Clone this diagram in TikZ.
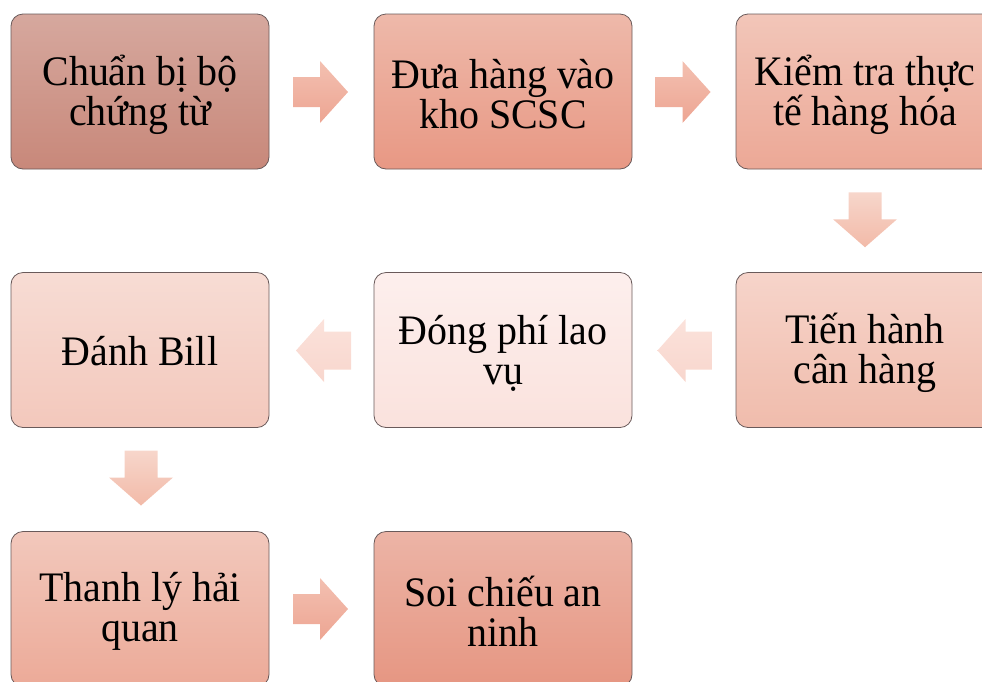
\documentclass[tikz,border=0pt]{standalone}
\usepackage{fontspec}
\setmainfont{Liberation Serif}[FakeStretch=0.95]
\usetikzlibrary{calc}
\definecolor{bdr}{RGB}{105,90,90}
\definecolor{b1t}{RGB}{214,168,158}\definecolor{b1b}{RGB}{200,136,122}
\definecolor{b2t}{RGB}{238,185,170}\definecolor{b2b}{RGB}{232,152,132}
\definecolor{b3t}{RGB}{242,198,185}\definecolor{b3b}{RGB}{236,168,150}
\definecolor{b4t}{RGB}{246,212,202}\definecolor{b4b}{RGB}{240,188,172}
\definecolor{b5t}{RGB}{253,239,237}\definecolor{b5b}{RGB}{250,226,221}
\definecolor{b6t}{RGB}{247,220,212}\definecolor{b6b}{RGB}{243,200,188}
\definecolor{b7t}{RGB}{242,200,188}\definecolor{b7b}{RGB}{236,170,152}
\definecolor{b8t}{RGB}{236,180,166}\definecolor{b8b}{RGB}{230,150,130}
\definecolor{art}{RGB}{243,192,177}\definecolor{arb}{RGB}{237,165,146}
\definecolor{adt}{RGB}{247,214,203}\definecolor{adb}{RGB}{242,186,168}
\definecolor{alt}{RGB}{251,226,219}\definecolor{alb}{RGB}{248,214,205}
\begin{document}
\begin{tikzpicture}[x=1pt,y=-1pt,
  stepbox/.style={draw=bdr, line width=0.8pt, rounded corners=12pt,
    minimum width=258pt, minimum height=155pt, inner sep=0pt},
  steptext/.style={inner sep=0pt, align=center,
    font=\fontsize{42}{40}\selectfont},
  rarr/.style={top color=art, bottom color=arb, draw=none},
  darr/.style={top color=adt, bottom color=adb, draw=none},
  larr/.style={top color=alt, bottom color=alb, draw=none}]
\useasboundingbox (0,0) rectangle (982,681);
\node[stepbox, top color=b1t, bottom color=b1b] (b1) at (140,91.5) {};
\node[stepbox, top color=b2t, bottom color=b2b] (b2) at (503,91.5) {};
\node[stepbox, top color=b3t, bottom color=b3b] (b3) at (865,91.5) {};
\node[stepbox, top color=b4t, bottom color=b4b] (b4) at (865,350) {};
\node[stepbox, top color=b5t, bottom color=b5b] (b5) at (503,350) {};
\node[stepbox, top color=b6t, bottom color=b6b] (b6) at (140,350) {};
\node[stepbox, top color=b7t, bottom color=b7b] (b7) at (140,609) {};
\node[stepbox, top color=b8t, bottom color=b8b] (b8) at (503,609) {};
\node[steptext] (t1) at ($(b1.center)+(0,3)$) {Chuẩn bị bộ\\chứng từ};
\node[steptext] (t2) at ($(b2.center)+(0,3)$) {Đưa hàng vào\\kho SCSC};
\node[steptext] (t3) at ($(b3.center)+(0,3)$) {Kiểm tra thực\\tế hàng hóa};
\node[steptext] (t4) at ($(b4.center)+(0,3)$) {Tiến hành\\cân hàng};
\node[steptext] (t5) at ($(b5.center)+(0,3)$) {Đóng phí lao\\vụ};
\node[steptext] (t6) at ($(b6.center)+(0,1)$) {Đánh Bill};
\node[steptext] (t7) at ($(b7.center)+(0,2)$) {Thanh lý hải\\quan};
\node[steptext] (t8) at ($(b8.center)+(0,2)$) {Soi chiếu an\\ninh};
% connector midpoints
\coordinate (m12) at ($(b1.east)!0.5!(b2.west)+(-1,0.5)$);
\coordinate (m23) at ($(b2.east)!0.5!(b3.west)+(-1,0.5)$);
\coordinate (m34) at ($(b3.south)!0.5!(b4.north)+(0,-1)$);
\coordinate (m45) at ($(b4.west)!0.5!(b5.east)+(1,0.5)$);
\coordinate (m56) at ($(b5.west)!0.5!(b6.east)+(2,0.5)$);
\coordinate (m67) at ($(b6.south)!0.5!(b7.north)+(1,-1.5)$);
\coordinate (m78) at ($(b7.east)!0.5!(b8.west)+(-1,0)$);
% right arrows
\foreach \m in {m12,m23,m78}{
  \shade[rarr] (\m) ++(-27.5,-15) -- ++(27,0) -- ++(0,-16) -- ++(28,31) -- ++(-28,31) -- ++(0,-16) -- ++(-27,0) -- cycle;
}
% down arrows
\foreach \m in {m34,m67}{
  \shade[darr] (\m) ++(-16.5,-27.5) -- ++(33,0) -- ++(0,27) -- ++(15.5,0) -- ++(-32,28) -- ++(-32,-28) -- ++(15.5,0) -- cycle;
}
% left arrows
\foreach \m in {m45,m56}{
  \shade[larr] (\m) ++(27.5,-19) -- ++(-27,0) -- ++(0,-12.5) -- ++(-28,31.5) -- ++(28,31.5) -- ++(0,-12.5) -- ++(27,0) -- cycle;
}
\end{tikzpicture}
\end{document}
